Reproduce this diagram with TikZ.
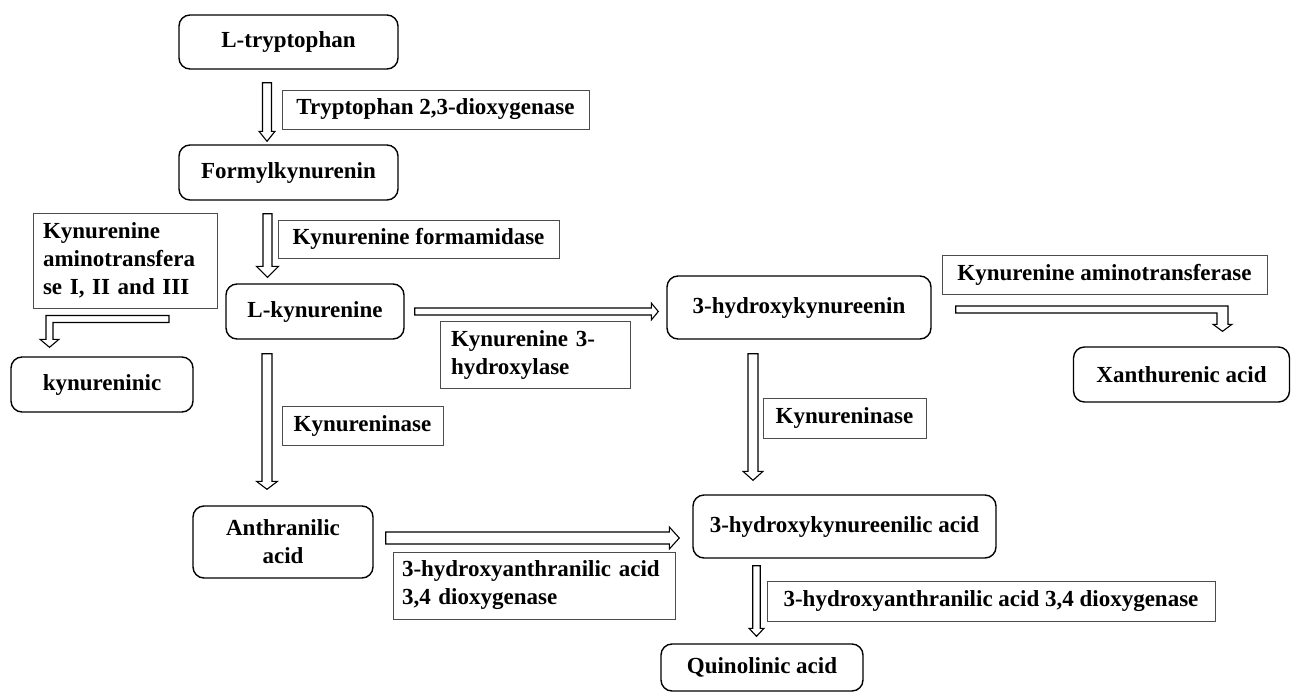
\documentclass[tikz,border=0pt]{standalone}
\usepackage{fontspec}
\setmainfont{Liberation Serif}
\usetikzlibrary{calc}
\tikzset{
  met/.style={draw, line width=1.4pt, rounded corners=11pt, inner sep=0pt, align=center, font=\fontsize{23}{28}\selectfont\bfseries},
  lab/.style={draw=black!70, line width=0.9pt, inner sep=0pt, align=center, font=\fontsize{23}{28}\selectfont\bfseries},
  labl/.style={draw=black!70, line width=0.9pt, inner ysep=0pt, align=left, font=\fontsize{23}{28}\selectfont\bfseries},
  blk/.style={draw, line width=1.1pt, fill=white, line join=miter}
}
% vertical down block arrow: #1 top, #2 tip, #3 half shaft, #4 half head, #5 head length
\newcommand\vblk[5]{\draw[blk] let \p1=#1, \p2=#2 in
  (\x1-#3pt,\y1) -- (\x1+#3pt,\y1) -- (\x1+#3pt,\y2+#5pt) -- (\x1+#4pt,\y2+#5pt) -- (\x1,\y2)
  -- (\x1-#4pt,\y2+#5pt) -- (\x1-#3pt,\y2+#5pt) -- cycle;}
% horizontal right block arrow
\newcommand\hblk[5]{\draw[blk] let \p1=#1, \p2=#2 in
  (\x1,\y1+#3pt) -- (\x2-#5pt,\y1+#3pt) -- (\x2-#5pt,\y1+#4pt) -- (\x2,\y1)
  -- (\x2-#5pt,\y1-#4pt) -- (\x2-#5pt,\y1-#3pt) -- (\x1,\y1-#3pt) -- cycle;}
\begin{document}
\begin{tikzpicture}[x=1pt,y=-1pt]
\useasboundingbox (0,0) rectangle (1291,694);
% metabolites
\node[met, minimum width=219pt, minimum height=54pt] (trp) at (288.5,42) {L-tryptophan};
\node[met, minimum width=219pt, minimum height=55pt] (frm) at (288.5,172.5) {Formylkynurenin};
\node[met, minimum width=178pt, minimum height=55pt] (lkyn) at (315,311.5) {L-kynurenine};
\node[met, minimum width=182pt, minimum height=55pt] (kyna) at (102,384.5) {kynureninic};
\node[met, minimum width=180pt, minimum height=72pt] (anth) at (283,542) {Anthranilic\\acid};
\node[met, minimum width=264pt, minimum height=63pt] (hk) at (799,307.5) {3-hydroxykynureenin};
\node[met, minimum width=216pt, minimum height=55pt] (xan) at (1181.5,374.5) {Xanthurenic acid};
\node[met, minimum width=303pt, minimum height=63pt] (hke) at (844.5,526.5) {3-hydroxykynureenilic acid};
\node[met, minimum width=202pt, minimum height=47pt] (quin) at (762,667.5) {Quinolinic acid};
% enzyme labels
\node[lab, minimum width=307pt, minimum height=39pt] (l1) at (435.5,109.5) {Tryptophan 2,3-dioxygenase};
\node[lab, minimum width=281pt, minimum height=38pt] (l2) at (418.5,239) {Kynurenine formamidase};
\node[labl, inner xsep=10pt, text width=164pt, minimum height=95pt] (l3) at (125,260.5) {Kynurenine\\aminotransfera\\se I, II and III};
\node[labl, inner xsep=11pt, text width=168pt, minimum height=67pt] (l4) at (535,354.5) {Kynurenine 3-\\hydroxylase};
\node[lab, minimum width=161pt, minimum height=39pt] (l5) at (362.5,425.5) {Kynureninase};
\node[lab, minimum width=325pt, minimum height=39pt] (l6) at (1104.5,274.5) {Kynurenine aminotransferase};
\node[lab, minimum width=163pt, minimum height=40pt] (l7) at (844.5,418) {Kynureninase};
\node[labl, inner xsep=9pt, text width=264pt, minimum height=67pt] (l8) at (534,585.5) {3-hydroxyanthranilic acid\\3,4 dioxygenase};
\node[lab, minimum width=448pt, minimum height=40pt] (l9) at (991,601) {3-hydroxyanthranilic acid 3,4 dioxygenase};
% block arrows
\vblk{($(trp.south)+(-21.5,13)$)}{($(frm.north)+(-21.5,-3)$)}{4.5}{8}{10}
\vblk{($(frm.south)+(-21,13)$)}{($(lkyn.north)+(-47.5,-6)$)}{4.5}{11}{11}
\vblk{($(lkyn.south)+(-48,14)$)}{($(anth.north)+(-16,-16)$)}{5}{10.5}{8}
\vblk{($(hk.south)+(-46,14)$)}{($(hke.north)+(-91.5,-14)$)}{5}{10}{9}
\vblk{($(hke.south)+(-88,7)$)}{($(quin.north)+(-5.5,-7)$)}{3.75}{7.5}{8}
\hblk{($(lkyn.east)+(10,0)$)}{($(hk.west)+(-8,4)$)}{3.5}{8.5}{7}
\hblk{($(anth.east)+(12,-4)$)}{($(hke.west)+(-13,0)$)}{6}{11}{10}
% bent arrow to kynureninic
\draw[blk] let \p1=($(l3.south)+(44,10.5)$), \p2=($(kyna.north)+(-52.5,-9)$) in
  (\x1,\y1+3.5pt) -- (\x2-3.5pt,\y1+3.5pt) -- (\x2-3.5pt,\y2+8pt) -- (\x2-9.5pt,\y2+8pt) -- (\x2,\y2)
  -- (\x2+9.5pt,\y2+8pt) -- (\x2+3.5pt,\y2+8pt) -- (\x2+3.5pt,\y1-3.5pt) -- (\x1,\y1-3.5pt) -- cycle;
% bent arrow to xanthurenic acid
\draw[blk] let \p1=($(hk.east)+(24,2)$), \p2=($(xan.north)+(41,-15)$) in
  (\x1,\y1+3.5pt) -- (\x2+5.5pt,\y1+3.5pt) -- (\x2+5.5pt,\y2+7pt) -- (\x2+9.5pt,\y2+7pt) -- (\x2,\y2)
  -- (\x2-9.5pt,\y2+7pt) -- (\x2-5.5pt,\y2+7pt) -- (\x2-5.5pt,\y1-3.5pt) -- (\x1,\y1-3.5pt) -- cycle;
\end{tikzpicture}
\end{document}
